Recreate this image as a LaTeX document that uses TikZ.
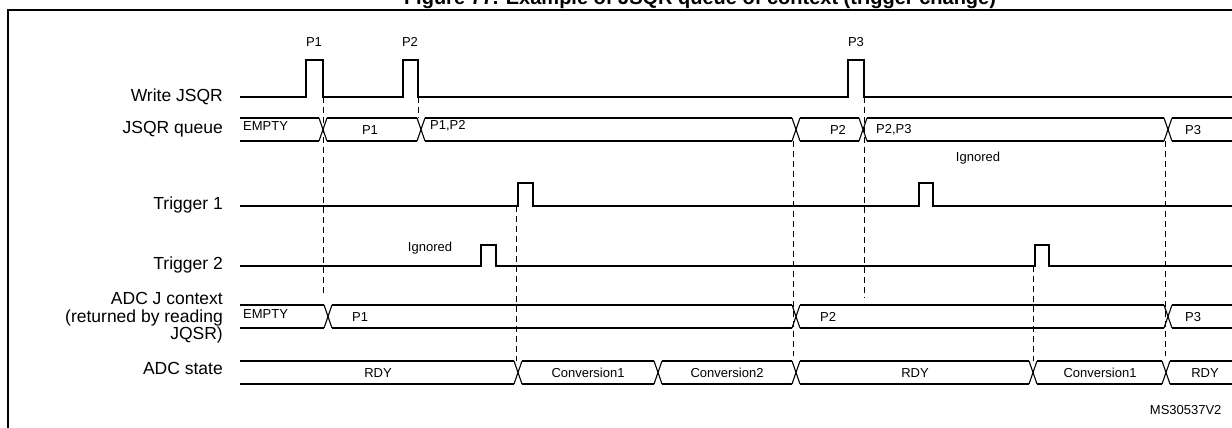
\documentclass[tikz,border=0pt]{standalone}
\usepackage{fontspec}
\setmainfont{Liberation Sans}
\usetikzlibrary{positioning}
\newcommand{\sigfont}{\fontsize{17.5}{19}\selectfont}
\newcommand{\busfont}{\fontsize{13}{14}\selectfont}

\tikzset{
  wave/.style={line width=1.1pt},
  guide/.style={line width=0.9pt, dash pattern=on 6pt off 4pt},
  siglabel/.style={anchor=east, font=\sigfont, align=right, inner sep=0pt},
  bustext/.style={font=\busfont, inner sep=0pt}
}

\begin{document}
\begin{tikzpicture}[x=1pt, y=-1pt]
    \useasboundingbox (0,0) rectangle (1232,428);

    % Frame and title
    \draw[line width=1.4pt] (8,440) -- (8,10) -- (1240,10);
    \node[font=\bfseries\fontsize{20}{22}\selectfont, anchor=base, inner sep=0pt] (title) at (700,5)
      {Figure 77. Example of JSQR queue of context (trigger change)};

    % Signal names
    \node[siglabel] (lwr) at (223,97) {Write JSQR};
    \node[siglabel] (lq) at (223,129) {JSQR queue};
    \node[siglabel] (lt1) at (223,205) {Trigger 1};
    \node[siglabel] (lt2) at (223,265) {Trigger 2};
    \node[siglabel, font=\fontsize{17.5}{17.5}\selectfont] (lctx) at (223,318)
      {ADC J context \\ (returned by reading \\ JQSR)};
    \node[siglabel] (lst) at (223,368) {ADC state};

    % Write JSQR
    \draw[wave] (240,97) -- (306,97) -- (306,60) -- (323,60) -- (323,97)
      -- (403,97) -- (403,60) -- (418,60) -- (418,97)
      -- (848,97) -- (848,60) -- (864,60) -- (864,97) -- (1232,97);
    \node[font=\busfont] (p1) at (314,42) {P1};
    \node[font=\busfont] (p2) at (410,42) {P2};
    \node[font=\busfont] (p3) at (856,42) {P3};

    % Trigger 1 and Trigger 2
    \draw[wave] (240,206) -- (518,206) -- (518,183) -- (533,183) -- (533,206)
      -- (919,206) -- (919,183) -- (933,183) -- (933,206) -- (1232,206);
    \draw[wave] (240,266) -- (481,266) -- (481,245) -- (496,245) -- (496,266)
      -- (1035,266) -- (1035,245) -- (1049,245) -- (1049,266) -- (1232,266);
    \node[font=\busfont] (ign1) at (978,158) {Ignored};
    \node[font=\busfont] (ign2) at (430,248) {Ignored};

    % Buses: segment boundaries (crossing centres)
    \foreach \ytop/\list in {118/{236,323,421,796,863,1168,1240},
                             305/{236,328,796,1168,1240},
                             361/{236,518,658,796,1033,1166,1240}}{
      \pgfmathsetmacro{\ybot}{\ytop+23}
      \foreach \xb [remember=\xb as \xa (initially 236)] in \list {
        \ifdim\xb pt>\xa pt
          \draw[wave] (\xa+4,\ytop) -- (\xb-4,\ytop);
          \draw[wave] (\xa+4,\ybot) -- (\xb-4,\ybot);
          \draw[wave] (\xb-4,\ytop) -- (\xb+4,\ybot);
          \draw[wave] (\xb-4,\ybot) -- (\xb+4,\ytop);
        \fi
      }
    }

    % Bus contents
    \node[bustext, anchor=west] (q0) at (243,126) {EMPTY};
    \node[bustext] (q1) at (370,130) {P1};
    \node[bustext, anchor=west] (q2) at (430,126) {P1,P2};
    \node[bustext] (q3) at (838,130) {P2};
    \node[bustext, anchor=west] (q4) at (876,130) {P2,P3};
    \node[bustext, anchor=west] (q5) at (1185,130) {P3};
    \node[bustext, anchor=west] (c0) at (243,314) {EMPTY};
    \node[bustext, anchor=west] (c1) at (352,317) {P1};
    \node[bustext, anchor=west] (c2) at (820,317) {P2};
    \node[bustext, anchor=west] (c3) at (1185,317) {P3};
    \node[bustext] (s0) at (378,373) {RDY};
    \node[bustext] (s1) at (588,373) {Conversion1};
    \node[bustext] (s2) at (727,373) {Conversion2};
    \node[bustext] (s3) at (915,373) {RDY};
    \node[bustext] (s4) at (1100,373) {Conversion1};
    \node[bustext] (s5) at (1205,373) {RDY};

    % Guides
    \draw[guide] (323,97) -- (323,296);
    \draw[guide] (418,97) -- (418,118);
    \draw[guide] (516,206) -- (516,361);
    \draw[guide] (864,97) -- (864,298);
    \draw[guide] (793,141) -- (793,356);
    \draw[guide] (1033,266) -- (1033,361);
    \draw[guide] (1165,141) -- (1165,356);

    \node[font=\busfont, anchor=south east] (ref) at (1225,418) {MS30537V2};
\end{tikzpicture}
\end{document}
